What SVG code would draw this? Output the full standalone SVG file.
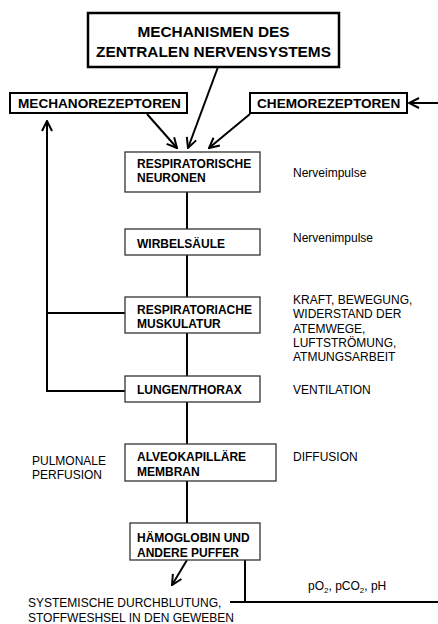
<svg xmlns="http://www.w3.org/2000/svg" width="438" height="624" viewBox="0 0 438 624">
<style>
  .bg{fill:#fff}
  .box{fill:#fff;stroke:#333;stroke-width:1.3}
  .hbox{fill:#fff;stroke:#000;stroke-width:2}
  .tbox{fill:#fff;stroke:#000;stroke-width:2.5}
  .b{font-family:"Liberation Sans",Arial,sans-serif;font-weight:bold;font-size:12px;fill:#000}
  .h{font-family:"Liberation Sans",Arial,sans-serif;font-weight:bold;font-size:13.6px;fill:#000}
  .t{font-family:"Liberation Sans",Arial,sans-serif;font-weight:bold;font-size:15.4px;fill:#000}
  .r{font-family:"Liberation Sans",Arial,sans-serif;font-size:12px;fill:#000}
  .ln{fill:none;stroke:#000;stroke-width:2}
</style>
<defs>
  <marker id="ah" viewBox="0 0 12 12" refX="11" refY="6" markerWidth="12" markerHeight="12" markerUnits="userSpaceOnUse" orient="auto">
    <path d="M1,1 L11,6 L1,11" fill="none" stroke="#000" stroke-width="2"/>
  </marker>
</defs>
<rect class="bg" x="0" y="0" width="438" height="624"/>

<g id="connectors">
  <line class="ln" x1="218" y1="67" x2="188" y2="148" marker-end="url(#ah)"/>
  <line class="ln" x1="147" y1="114" x2="177" y2="148" marker-end="url(#ah)"/>
  <line class="ln" x1="250" y1="114" x2="209" y2="148" marker-end="url(#ah)"/>
  <line class="ln" x1="438" y1="103" x2="409" y2="103" marker-end="url(#ah)"/>
  <line class="ln" x1="187" y1="192" x2="187" y2="229"/>
  <line class="ln" x1="187" y1="255" x2="187" y2="297"/>
  <line class="ln" x1="187" y1="333" x2="187" y2="376"/>
  <line class="ln" x1="187" y1="402" x2="187" y2="444"/>
  <line class="ln" x1="187" y1="481" x2="187" y2="523"/>
  <polyline class="ln" points="125,391 47,391 47,121" marker-end="url(#ah)"/>
  <line class="ln" x1="47" y1="313" x2="125" y2="313"/>
  <line class="ln" x1="187" y1="560" x2="172" y2="585" marker-end="url(#ah)"/>
  <line class="ln" x1="245" y1="560" x2="245" y2="602"/>
  <line class="ln" x1="230" y1="602" x2="438" y2="602"/>
</g>

<g id="zns">
  <rect class="tbox" x="88" y="13" width="251" height="54"/>
  <text class="t" x="213.5" y="37" text-anchor="middle">MECHANISMEN DES</text>
  <text class="t" x="213.5" y="57" text-anchor="middle">ZENTRALEN NERVENSYSTEMS</text>
</g>

<g id="mechano">
  <rect class="hbox" x="10" y="93" width="177" height="20"/>
  <text class="h" x="18" y="108">MECHANOREZEPTOREN</text>
</g>

<g id="chemo">
  <rect class="hbox" x="250" y="93" width="157" height="20"/>
  <text class="h" x="257" y="108">CHEMOREZEPTOREN</text>
</g>

<g id="neuronen">
  <rect class="box" x="125" y="152" width="135" height="40"/>
  <text class="b" x="137" y="168">RESPIRATORISCHE</text>
  <text class="b" x="137" y="182">NEURONEN</text>
  <text class="r" x="293" y="177">Nerveimpulse</text>
</g>

<g id="wirbel">
  <rect class="box" x="125" y="229" width="135" height="26"/>
  <text class="b" x="137" y="248">WIRBELSÄULE</text>
  <text class="r" x="293" y="242">Nervenimpulse</text>
</g>

<g id="muskulatur">
  <rect class="box" x="125" y="297" width="135" height="36"/>
  <text class="b" x="137" y="314">RESPIRATORIACHE</text>
  <text class="b" x="137" y="328">MUSKULATUR</text>
  <text class="r" x="293" y="304">KRAFT, BEWEGUNG,</text>
  <text class="r" x="293" y="318">WIDERSTAND DER</text>
  <text class="r" x="293" y="333">ATEMWEGE,</text>
  <text class="r" x="293" y="347">LUFTSTRÖMUNG,</text>
  <text class="r" x="293" y="361">ATMUNGSARBEIT</text>
</g>

<g id="lungen">
  <rect class="box" x="125" y="376" width="135" height="26"/>
  <text class="b" x="137" y="394">LUNGEN/THORAX</text>
  <text class="r" x="293" y="394">VENTILATION</text>
</g>

<g id="alveo">
  <rect class="box" x="125" y="444" width="151" height="37"/>
  <text class="b" x="137" y="461">ALVEOKAPILLÄRE</text>
  <text class="b" x="137" y="476">MEMBRAN</text>
  <text class="r" x="293" y="461">DIFFUSION</text>
  <text class="r" x="32" y="465">PULMONALE</text>
  <text class="r" x="32" y="479">PERFUSION</text>
</g>

<g id="haemo">
  <rect class="box" x="130" y="523" width="130" height="37"/>
  <text class="b" x="137" y="542">HÄMOGLOBIN UND</text>
  <text class="b" x="137" y="557">ANDERE PUFFER</text>
</g>

<g id="gewebe">
  <text class="r" x="28" y="607">SYSTEMISCHE DURCHBLUTUNG,</text>
  <text class="r" x="28" y="622">STOFFWESHSEL IN DEN GEWEBEN</text>
</g>

<g id="gases">
  <text class="r" x="308" y="590">pO<tspan font-size="8" dy="3">2</tspan><tspan dy="-3">, pCO</tspan><tspan font-size="8" dy="3">2</tspan><tspan dy="-3">, pH</tspan></text>
</g>
</svg>
